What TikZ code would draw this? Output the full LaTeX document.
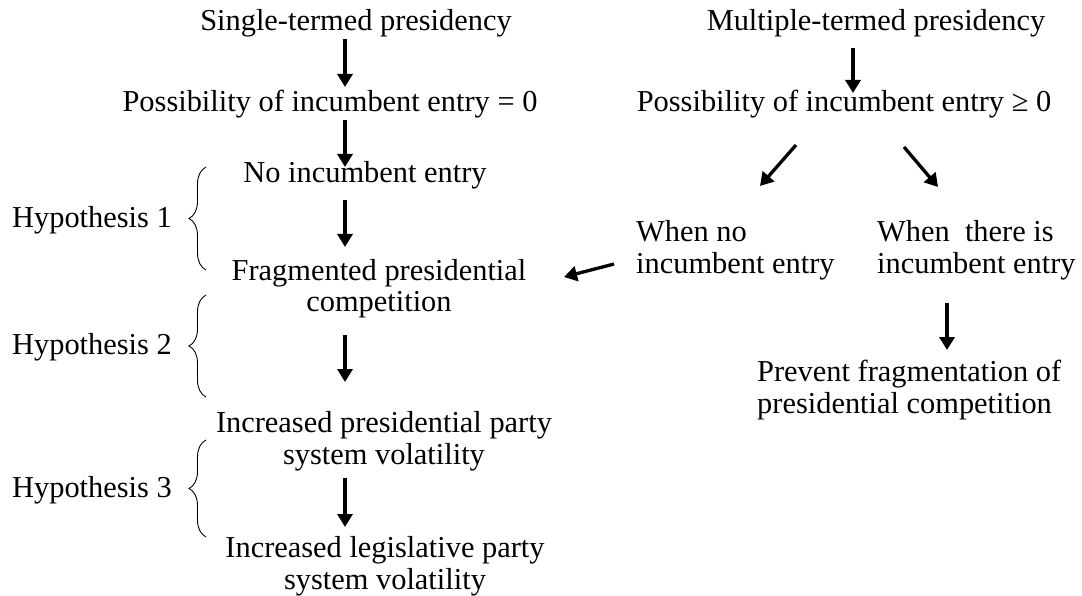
\documentclass[tikz,border=0pt]{standalone}
\usepackage{fontspec}
\setmainfont{Liberation Serif}
\usetikzlibrary{arrows.meta,decorations.pathreplacing}
\begin{document}
\begin{tikzpicture}[x=1pt,y=-1pt,
  lbl/.style={inner sep=0pt, font=\fontsize{30.4}{32}\selectfont},
  arr/.style={line width=3.3pt, -{Triangle[width=15pt,length=13pt]}},
  brc/.style={line width=0.9pt, decorate, decoration={brace,amplitude=17pt}}]
\useasboundingbox (0,0) rectangle (1082,596);
\coordinate (colL) at (345,0);
\coordinate (colM) at (853,0);
\coordinate (colR) at (947,0);
% left column
\node[lbl,anchor=base] (single) at (356,31) {Single-termed presidency};
\node[lbl,anchor=base] (poss0) at (330,112) {Possibility of incumbent entry = 0};
\node[lbl,anchor=base] (noinc) at (365,183) {No incumbent entry};
\node[lbl,anchor=base] (frag) at (379,280) {\begin{tabular}[t]{@{}c@{}}Fragmented presidential\\competition\end{tabular}};
\node[lbl,anchor=base] (incpres) at (384,432) {\begin{tabular}[t]{@{}c@{}}Increased presidential party\\system volatility\end{tabular}};
\node[lbl,anchor=base] (inclegis) at (385,557) {\begin{tabular}[t]{@{}c@{}}Increased legislative party\\system volatility\end{tabular}};
% hypotheses
\node[lbl,anchor=base west] (hyp1) at (12,228) {Hypothesis 1};
\node[lbl,anchor=base west] (hyp2) at (12,354) {Hypothesis 2};
\node[lbl,anchor=base west] (hyp3) at (12,497) {Hypothesis 3};
\draw[brc] (206,270) -- (206,167);
\draw[brc] (206,397) -- (206,295);
\draw[brc] (206,537) -- (206,440);
% right column
\node[lbl,anchor=base] (multi) at (876,31) {Multiple-termed presidency};
\node[lbl,anchor=base] (poss1) at (844,112) {Possibility of incumbent entry \symbol{"2265} 0};
\node[lbl,anchor=base west] (whenno) at (636,242) {\begin{tabular}[t]{@{}l@{}}When no\\incumbent entry\end{tabular}};
\node[lbl,anchor=base west] (whenyes) at (877,242) {\begin{tabular}[t]{@{}l@{}}When\ \ there is\\incumbent entry\end{tabular}};
\node[lbl,anchor=base west] (prevent) at (757,381) {\begin{tabular}[t]{@{}l@{}}Prevent fragmentation of\\presidential competition\end{tabular}};
% arrows
\draw[arr, shorten <=8pt, shorten >=25pt] (single.base -| colL) -- (poss0.base -| colL);
\draw[arr, shorten <=8pt, shorten >=16pt] (poss0.base -| colL) -- (noinc.base -| colL);
\draw[arr, shorten <=17pt, shorten >=33pt] (noinc.base -| colL) -- (frag.base -| colL);
\draw[arr, shorten <=55pt, shorten >=50pt] (frag.base -| colL) -- (incpres.base -| colL);
\draw[arr, shorten <=46pt, shorten >=30pt] (incpres.base -| colL) -- (inclegis.base -| colL);
\draw[arr, shorten <=17pt, shorten >=19pt] (multi.base -| colM) -- (poss1.base -| colM);
\draw[arr] ([xshift=-48pt,yshift=-33pt]poss1.base) -- ([xshift=124pt,yshift=56pt]whenno.base west);
\draw[arr] ([xshift=60pt,yshift=-35pt]poss1.base) -- ([xshift=61pt,yshift=55pt]whenyes.base west);
\draw[arr] ([xshift=-22pt,yshift=-22pt]whenno.base west) -- ([xshift=185pt,yshift=3pt]frag.base);
\draw[arr, shorten <=61pt, shorten >=31pt] (whenyes.base west -| colR) -- (prevent.base west -| colR);
\end{tikzpicture}
\end{document}
